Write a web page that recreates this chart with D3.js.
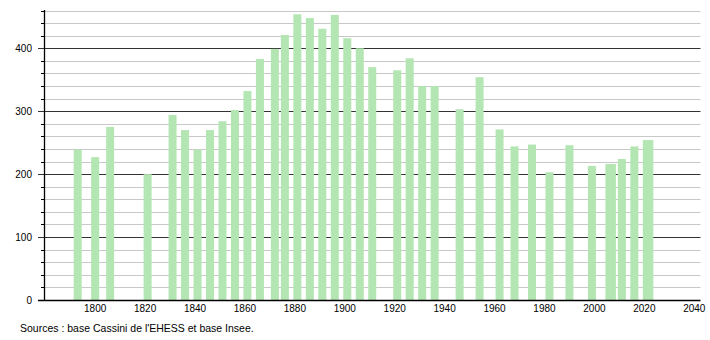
<!DOCTYPE html>
<html><head><meta charset="utf-8">
<script src="https://cdn.jsdelivr.net/npm/d3@7"></script>
<style>
html,body{margin:0;padding:0;background:#fff;}
text{font-family:"Liberation Sans",Arial,Helvetica,sans-serif;font-size:10px;fill:#000;}
</style></head>
<body><svg id="c" width="710" height="340"></svg>
<script>
const years = [1793,1800,1806,1821,1831,1836,1841,1846,1851,1856,1861,1866,1872,1876,1881,1886,1891,1896,1901,1906,1911,1921,1926,1931,1936,1946,1954,1962,1968,1975,1982,1990,1999,2006,2007,2011,2016,2021,2022];
const population = [239,227,275,200,294,270,239,270,284,302,332,383,399,421,454,448,431,453,416,400,370,365,384,340,340,303,354,271,244,247,203,246,213,216,216,224,244,254,254];
const yTicksMajor = [0,100,200,300,400];
const xTickLabels = [1800,1820,1840,1860,1880,1900,1920,1940,1960,1980,2000,2020,2040];
const sourceText = "Sources : base Cassini de l'EHESS et base Insee.";

const svg = d3.select("#c");
const x = d3.scaleLinear().domain([1779.5,2042.5]).range([44,700.5]);
const y = d3.scaleLinear().domain([0,460]).range([300,10.5]);
const barW = 8;

const minor = d3.range(20,461,20).filter(v=>v%100!==0);
svg.append("g").selectAll("line").data(minor).join("line")
  .attr("x1",41).attr("x2",700.5)
  .attr("y1",d=>Math.round(y(d))+0.5).attr("y2",d=>Math.round(y(d))+0.5)
  .attr("stroke","#c8c8c8").attr("stroke-width",1);
svg.append("g").selectAll("line").data(minor).join("line")
  .attr("x1",41).attr("x2",44)
  .attr("y1",d=>Math.round(y(d))+0.5).attr("y2",d=>Math.round(y(d))+0.5)
  .attr("stroke","#000").attr("stroke-width",1);
svg.append("g").selectAll("line").data(yTicksMajor.filter(d=>d>0)).join("line")
  .attr("x1",38).attr("x2",700.5)
  .attr("y1",d=>Math.round(y(d))+0.5).attr("y2",d=>Math.round(y(d))+0.5)
  .attr("stroke","#333").attr("stroke-width",1);

svg.append("g").selectAll("rect").data(years).join("rect")
  .attr("x",(d)=>x(d)-barW/2).attr("width",barW)
  .attr("y",(d,i)=>y(population[i])).attr("height",(d,i)=>y(0)-y(population[i]))
  .attr("fill","#b3e6b3");

svg.append("line").attr("x1",44.5).attr("x2",44.5).attr("y1",10).attr("y2",300.5)
  .attr("stroke","#000").attr("stroke-width",1.3);
svg.append("line").attr("x1",38).attr("x2",700.5).attr("y1",300.5).attr("y2",300.5)
  .attr("stroke","#000").attr("stroke-width",1.3);

svg.append("g").selectAll("text").data(yTicksMajor).join("text")
  .attr("x",32).attr("y",d=>y(d)).attr("dy","0.35em")
  .attr("text-anchor","end").text(d=>d);
svg.append("g").selectAll("text").data(xTickLabels).join("text")
  .attr("x",d=>x(d)).attr("y",312)
  .attr("text-anchor","middle").text(d=>d);

svg.append("text").attr("x",20).attr("y",332).style("font-size","10.5px").text(sourceText);
</script></body></html>
